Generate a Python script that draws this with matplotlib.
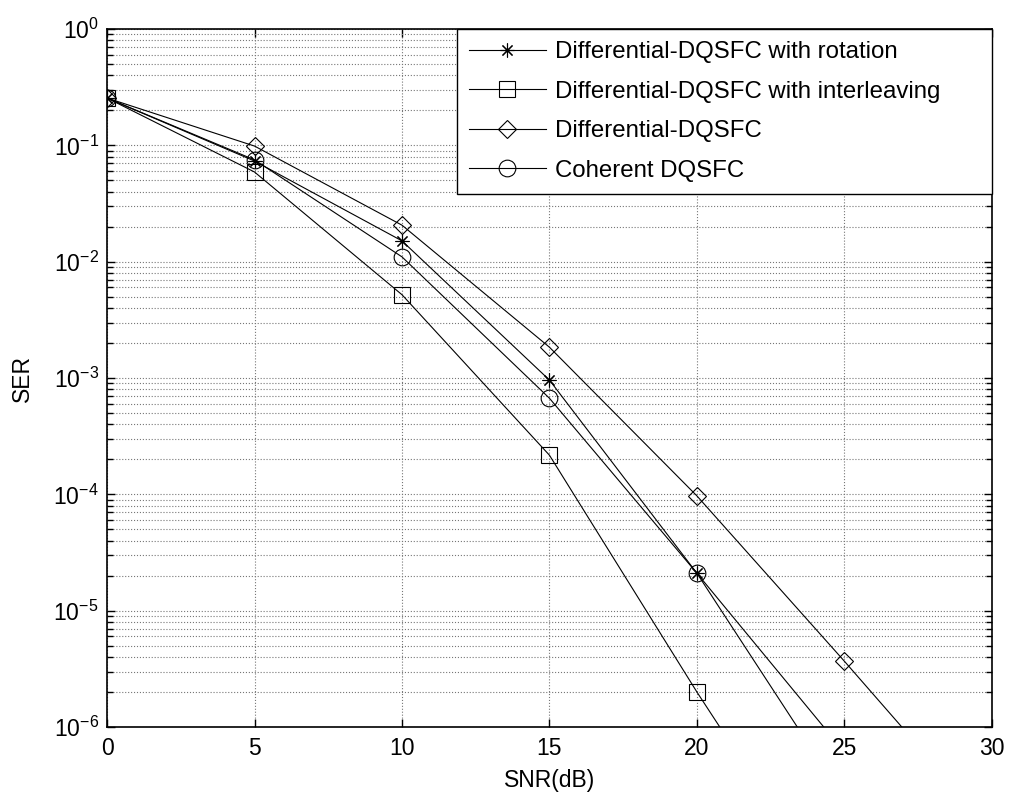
import numpy as np
import matplotlib.pyplot as plt
from matplotlib.ticker import FixedLocator, NullFormatter, MultipleLocator

plt.rcParams['font.family'] = ['Liberation Sans', 'DejaVu Sans']
plt.rcParams['mathtext.fontset'] = 'custom'
plt.rcParams['mathtext.rm'] = 'Liberation Sans'
plt.rcParams['mathtext.it'] = 'Liberation Sans:italic'

# SNR values (dB) and SER values
snr = [0, 5, 10, 15, 20, 25, 30]
ser_rotation = [0.255, 0.0733, 0.0151, 9.6e-4, 2.1e-5, 2.4e-7]
ser_interleave = [0.255, 0.059, 0.0052, 2.17e-4, 2.0e-6, 2.3e-8]
ser_diff = [0.255, 0.0986, 0.0206, 1.84e-3, 9.7e-5, 3.68e-6, 1.3e-7]
ser_coherent = [0.255, 0.075, 0.011, 6.7e-4, 2.1e-5, 6.1e-7]

decades = [-6, -5, -4, -3, -2, -1, 0]
ytick_labels = [r'$10^{%d}$' % d for d in decades]

labels = ['Differential-DQSFC with rotation',
          'Differential-DQSFC with interleaving',
          'Differential-DQSFC',
          'Coherent DQSFC']

fig = plt.figure(figsize=(10.1, 8.06), dpi=100)
ax = fig.add_axes([0.106, 0.098, 0.876, 0.866])

lw = 0.8
ax.semilogy(snr[:len(ser_rotation)], ser_rotation, 'k-', marker=(8, 2, 0), ms=10,
            mew=lw, lw=lw, label=labels[0])
ax.semilogy(snr[:len(ser_interleave)], ser_interleave, 'k-', marker='s', ms=12,
            mfc='none', mew=lw, lw=lw, label=labels[1])
ax.semilogy(snr[:len(ser_diff)], ser_diff, 'k-', marker='D', ms=9.5,
            mfc='none', mew=lw, lw=lw, label=labels[2])
ax.semilogy(snr[:len(ser_coherent)], ser_coherent, 'k-', marker='o', ms=12,
            mfc='none', mew=lw, lw=lw, label=labels[3])

ax.set_xlim(0, 30)
ax.set_ylim(1e-6, 1)
ax.xaxis.set_major_locator(MultipleLocator(5))
major = [10.0 ** d for d in decades]
minor = [m * 10.0 ** d for d in decades[:-1] for m in range(2, 10)]
ax.yaxis.set_major_locator(FixedLocator(major))
ax.set_yticklabels(ytick_labels)
ax.yaxis.set_minor_locator(FixedLocator(minor))
ax.yaxis.set_minor_formatter(NullFormatter())

ax.grid(True, which='major', linestyle=':', color='#777777', linewidth=0.8)
ax.grid(True, which='minor', axis='y', linestyle=':', color='#777777', linewidth=0.8)

ax.tick_params(which='both', direction='in', top=True, right=True, labelsize=16.5,
               width=1.0)
ax.tick_params(which='major', length=6)
ax.tick_params(which='minor', length=4)
ax.tick_params(axis='x', pad=7)
ax.tick_params(axis='y', pad=6)
for s in ax.spines.values():
    s.set_linewidth(1.2)

ax.set_xlabel('SNR(dB)', fontsize=16.5, labelpad=7)
ax.set_ylabel('SER', fontsize=16.5, labelpad=14)

leg = ax.legend(loc='upper left', bbox_to_anchor=(0.3955, 0, 0.6045, 1.0),
                mode='expand', borderaxespad=0, fontsize=17.3, fancybox=False,
                edgecolor='black', framealpha=1, handlelength=3.2,
                labelspacing=0.73, borderpad=0.5, handletextpad=0.4)
leg.get_frame().set_linewidth(1.0)

fig.savefig('out.png', dpi=100)
